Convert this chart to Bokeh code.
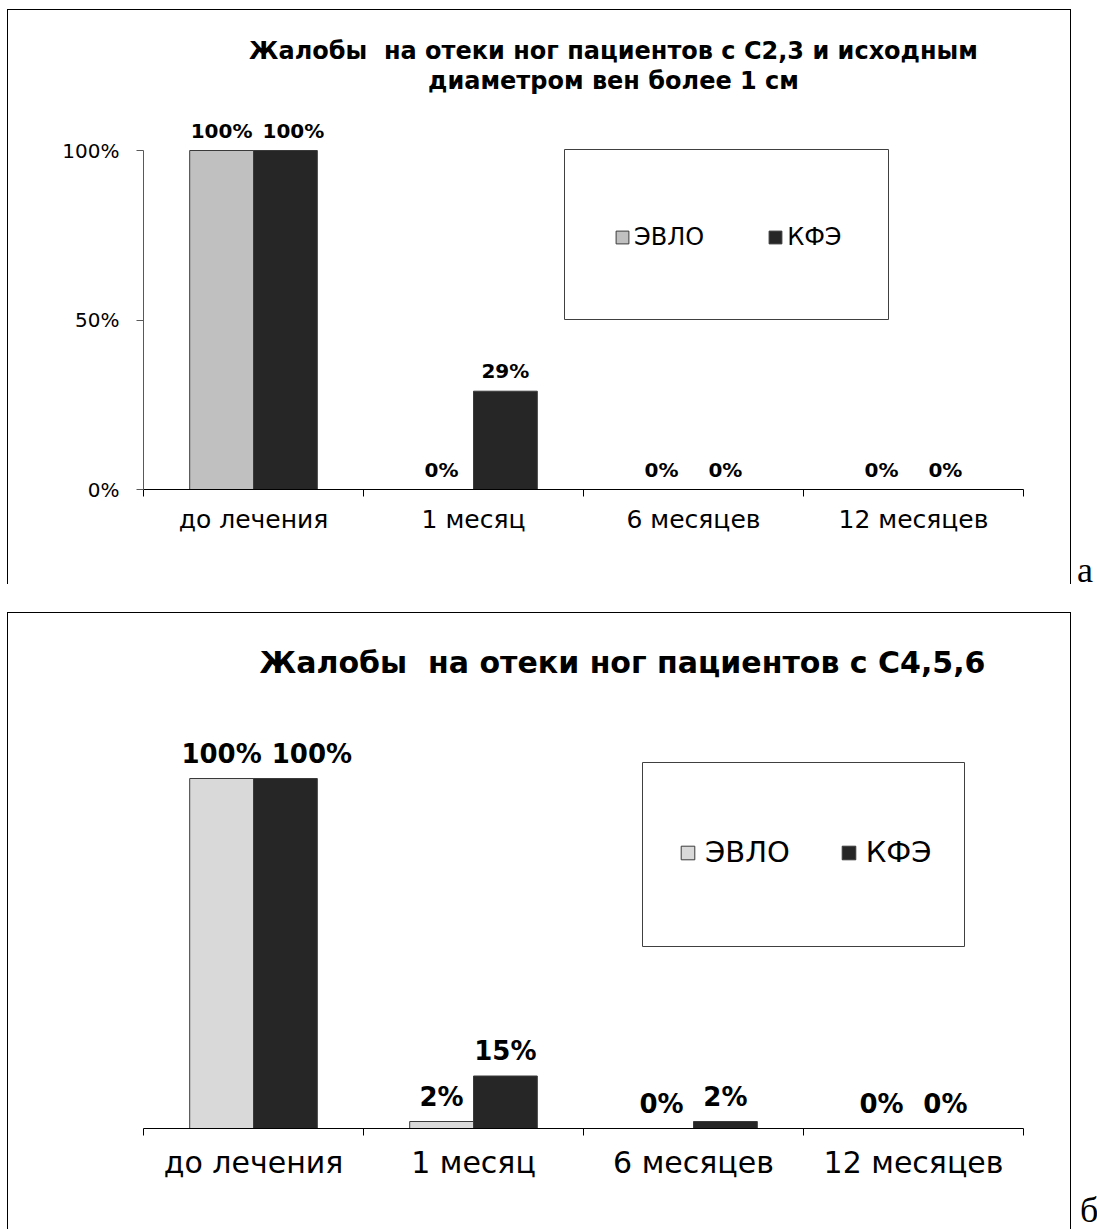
from bokeh.plotting import figure
from bokeh.layouts import column, row
from bokeh.models import (ColumnDataSource, Range1d, FixedTicker, PrintfTickFormatter,
                          LabelSet, Label, Legend, LegendItem, BoxAnnotation, Div)
from bokeh.core.properties import value
from bokeh.embed import file_html
from bokeh.resources import INLINE

# ---------------------------------------------------------------- data
categories = ["до лечения", "1 месяц", "6 месяцев", "12 месяцев"]
series_names = ["ЭВЛО", "КФЭ"]

# panel "а": patients with C2,3 and initial vein diameter over 1 cm
evlo_a = [100, 0, 0, 0]
kfe_a = [100, 29, 0, 0]

# panel "б": patients with C4,5,6
evlo_b = [100, 2, 0, 0]
kfe_b = [100, 15, 2, 0]

title_a = ["Жалобы\u00a0 на отеки ног пациентов с С2,3 и исходным",
           "диаметром вен более 1 см"]
title_b = ["Жалобы\u00a0 на отеки ног пациентов с С4,5,6"]
y_ticks_a = [0, 50, 100]

# ---------------------------------------------------------------- styling
FIG_W = 1077           # chart part of each row, the panel letter sits to its right
LETTER_W = 20
FRAME_LEFT = 143
FRAME_RIGHT = 1023
BAR_W = 0.29
FONT = "DejaVu Sans"
DARK = "#262626"
EDGE = "#3a3a3a"


def bold_width(text, size):
    """Rough width of a bold DejaVu percent label."""
    return size * sum(1.002 if ch == "%" else 0.696 for ch in text)


def page_frame(top, bottom, left=7, right=1070):
    """CSS background drawing an open-bottom page frame behind the chart."""
    h = bottom - top
    lines = [(left, top, right - left + 1, 1), (left, top, 1, h), (right, top, 1, h)]
    return ", ".join(f"linear-gradient(#000, #000) {x}px {y}px / {w}px {hh}px no-repeat"
                     for x, y, w, hh in lines)


def make_panel(height, axis_y, full_y, evlo, kfe, light, title_lines, title_x,
               title_y, title_step, title_size, cat_size, cat_standoff, val_size,
               val_gap, legend_size, legend_glyph, legend_xy, legend_spacing,
               legend_standoff, legend_box, border_top, border_bottom, show_y_axis,
               y_tick_size=20):
    y_end = 100 * axis_y / (axis_y - full_y)
    cat_px = (FRAME_RIGHT - FRAME_LEFT) / len(categories)
    p = figure(width=FIG_W, height=height, output_backend="svg",
               toolbar_location=None, x_range=Range1d(0, len(categories)),
               y_range=Range1d(0, y_end),
               y_axis_location="left" if show_y_axis else None,
               min_border_left=FRAME_LEFT, min_border_right=FIG_W - FRAME_RIGHT,
               min_border_top=0, min_border_bottom=height - axis_y)
    p.outline_line_color = None
    p.xgrid.grid_line_color = None
    p.ygrid.grid_line_color = None
    p.background_fill_color = None
    p.border_fill_color = None
    p.styles = {"background": page_frame(border_top, border_bottom)}

    # screen units are measured from the frame's bottom-left corner
    def sx(px):
        return px - FRAME_LEFT

    def sy(py):
        return axis_y - py

    # category axis: labels at the middle, ticks between the groups
    xa = p.xaxis[0]
    xa.ticker = FixedTicker(ticks=[i + 0.5 for i in range(len(categories))],
                            minor_ticks=list(range(len(categories) + 1)))
    xa.major_label_overrides = {i + 0.5: c for i, c in enumerate(categories)}
    xa.major_tick_line_color = None
    xa.major_tick_out = 0
    xa.major_tick_in = 0
    xa.minor_tick_line_color = "black"
    xa.minor_tick_out = 7
    xa.minor_tick_in = 0
    xa.axis_line_color = "black"
    xa.major_label_text_font = FONT
    xa.major_label_text_font_size = f"{cat_size}px"
    xa.major_label_text_color = "black"
    xa.major_label_standoff = cat_standoff

    if show_y_axis:
        ya = p.yaxis[0]
        ya.ticker = FixedTicker(ticks=y_ticks_a, minor_ticks=[])
        ya.formatter = PrintfTickFormatter(format="%d%%")
        ya.bounds = (0, 100)
        ya.axis_line_color = "#595959"
        ya.major_tick_line_color = "#595959"
        ya.major_tick_out = 7
        ya.major_tick_in = 0
        ya.minor_tick_line_color = None
        ya.major_label_text_font = FONT
        ya.major_label_text_font_size = f"{y_tick_size}px"
        ya.major_label_text_color = "black"
        ya.major_label_standoff = 17

    # when both labels of a group sit at one level, push the right one clear
    px_per_unit = (axis_y - full_y) / 100
    bar_px = BAR_W * cat_px
    nudge = []
    for e, k in zip(evlo, kfe):
        we, wk = bold_width(f"{e}%", val_size), bold_width(f"{k}%", val_size)
        same_level = abs(e - k) * px_per_unit < val_size
        nudge.append(max(0.0, (we + wk) / 2 + 10 - bar_px) if same_level else 0.0)

    renderers = []
    for vals, color, shift, dx in ((evlo, light, -BAR_W / 2, [0.0] * len(evlo)),
                                   (kfe, DARK, BAR_W / 2, nudge)):
        src = ColumnDataSource(dict(
            x=[i + 0.5 + shift for i in range(len(categories))],
            top=vals,
            text=[f"{v}%" for v in vals],
            dx=dx,
        ))
        r = p.vbar(x="x", top="top", bottom=0, width=BAR_W, source=src,
                   fill_color=color, line_color=EDGE, line_width=1)
        renderers.append(r)
        p.add_layout(LabelSet(x="x", y="top", text="text", source=src,
                              x_offset="dx", y_offset=val_gap, text_align="center",
                              text_baseline="middle", text_font=value(FONT),
                              text_font_style="bold",
                              text_font_size=f"{val_size}px", text_color="black"))

    # title
    for k, line in enumerate(title_lines):
        p.add_layout(Label(x=sx(title_x), y=sy(title_y + k * title_step),
                           x_units="screen", y_units="screen", text=line,
                           text_align="center", text_baseline="middle",
                           text_font=FONT, text_font_style="bold",
                           text_font_size=f"{title_size}px", text_color="black"))

    # legend box and legend
    bl, bt, br, bb = legend_box
    p.add_layout(BoxAnnotation(left=sx(bl), right=sx(br), top=sy(bt), bottom=sy(bb),
                               left_units="screen", right_units="screen",
                               top_units="screen", bottom_units="screen",
                               fill_alpha=0, line_color="#404040", line_alpha=1,
                               line_width=1, level="underlay"))
    legend = Legend(items=[LegendItem(label=value(n), renderers=[r])
                           for n, r in zip(series_names, renderers)],
                    orientation="horizontal",
                    location=(sx(legend_xy[0]), sy(legend_xy[1])),
                    padding=0, margin=0, spacing=legend_spacing,
                    label_standoff=legend_standoff,
                    glyph_width=legend_glyph, glyph_height=legend_glyph,
                    label_height=legend_glyph,
                    border_line_color=None, background_fill_alpha=0,
                    label_text_font=FONT, label_text_font_size=f"{legend_size}px",
                    label_text_color="black")
    p.add_layout(legend)
    return p


def panel_letter(text, top, left, height):
    return Div(text=text, width=LETTER_W - left, height=height,
               margin=(top, 0, 0, left),
               styles={"font-family": "'Liberation Serif', serif", "font-size": "36px",
                       "line-height": f"{height}px", "color": "black"})


pa = make_panel(height=600, axis_y=489, full_y=150, evlo=evlo_a, kfe=kfe_a,
                light="#c0c0c0", title_lines=title_a, title_x=613, title_y=50,
                title_step=30, title_size=24, cat_size=25, cat_standoff=8,
                val_size=20, val_gap=20, legend_size=24, legend_glyph=16,
                legend_xy=(614, 251), legend_spacing=63, legend_standoff=4,
                legend_box=(564, 149, 888, 319), border_top=9, border_bottom=584,
                show_y_axis=True)

pb = make_panel(height=629, axis_y=528, full_y=178, evlo=evlo_b, kfe=kfe_b,
                light="#d9d9d9", title_lines=title_b, title_x=622, title_y=62,
                title_step=0, title_size=30, cat_size=30, cat_standoff=9,
                val_size=26, val_gap=25, legend_size=29, legend_glyph=17,
                legend_xy=(679, 269), legend_spacing=50, legend_standoff=9,
                legend_box=(642, 162, 964, 346), border_top=12, border_bottom=629,
                show_y_axis=False)

layout = column(row(pa, panel_letter("а", 555, 0, 30)),
                row(pb, panel_letter("б", 596, 3, 28)),
                spacing=0)
open("out.html", "w").write(file_html(layout, INLINE))
